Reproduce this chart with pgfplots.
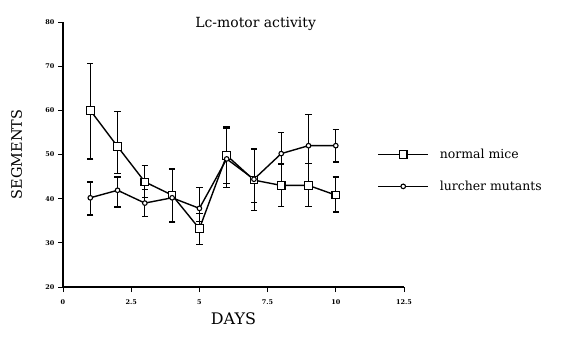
\documentclass[border=0pt]{standalone}
\usepackage{fontspec}
\setmainfont{DejaVu Serif}
\usepackage{pgfplots}
\pgfplotsset{compat=1.18}
\begin{document}
\begin{tikzpicture}
\useasboundingbox (-63bp,-53bp) rectangle (499bp,287bp);
\begin{axis}[
  scale only axis,
  width=341bp, height=265bp,
  at={(0,0)}, anchor=south west,
  xmin=0, xmax=12.5, ymin=20, ymax=80,
  axis lines=left,
  axis line style={line width=1.1pt,-},
  x axis line style={line width=1.6pt},
  xtick={0,2.5,5,7.5,10,12.5},
  xticklabels={0,2.5,5,7.5,10,12.5},
  ytick={20,30,...,80},
  tick align=outside,
  major tick length=5bp,
  tick style={line width=0.8pt,black},
  ticklabel style={font=\fontsize{6.5}{7}\selectfont\bfseries},
  xticklabel style={yshift=-4bp},
  /pgf/number format/assume math mode=true,
  xlabel={DAYS}, ylabel={SEGMENTS},
  xlabel style={font=\fontsize{16}{18}\selectfont, at={(axis description cs:0.5,-0.085)}, anchor=north},
  ylabel style={font=\fontsize{14.5}{16}\selectfont, at={(axis description cs:-0.11,0.5)}, anchor=south},
  title={Lc-motor activity},
  title style={font=\fontsize{14}{16}\selectfont, at={(axis description cs:0.565,0.97)}, anchor=center},
  clip=false,
  legend style={at={(rel axis cs:0.913,0.44)}, anchor=west, draw=none, fill=none,
    font=\fontsize{12.5}{14}\selectfont, row sep=17bp, nodes={inner xsep=11bp}},
  legend cell align=left,
  legend image code/.code={\draw[#1,mark=none] (0bp,0bp) -- (50bp,0bp);
    \draw[#1] plot[only marks] coordinates {(25bp,0bp)};},
  error bars/error bar style={line width=0.9pt,black},
  error bars/error mark options={rotate=90, mark size=3.2bp, line width=1.3pt, black},
]
\addplot[black, line width=1.4pt, mark=square*, mark size=3.8bp, mark options={fill=white, line width=1.1pt},
  error bars/.cd, y dir=both, y explicit]
  table[x=x, y=y, y error plus=ep, y error minus=em] {
x y ep em
1 60.0 10.6 11.0
2 51.8 8.0 6.1
3 43.8 3.7 3.5
4 40.8 6.0 6.0
5 33.2 3.5 3.5
6 49.8 6.4 7.2
7 44.2 7.0 5.0
8 43.0 4.7 4.7
9 43.0 4.9 4.7
10 40.8 4.1 3.8
};
\addlegendentry{normal mice}
\addplot[black, line width=1.4pt, mark=*, mark size=2.3bp, mark options={fill=white, line width=1.1pt},
  error bars/.cd, y dir=both, y explicit]
  table[x=x, y=y, y error plus=ep, y error minus=em] {
x y ep em
1 40.2 3.6 3.9
2 41.9 3.0 3.8
3 39.0 3.0 3.1
4 40.2 6.4 5.5
5 37.8 4.8 3.0
6 49.0 7.0 5.5
7 44.4 6.9 7.0
8 50.2 4.8 2.3
9 52.0 7.0 4.1
10 52.0 3.6 3.7
};
\addlegendentry{lurcher mutants}
\end{axis}
\end{tikzpicture}
\end{document}
